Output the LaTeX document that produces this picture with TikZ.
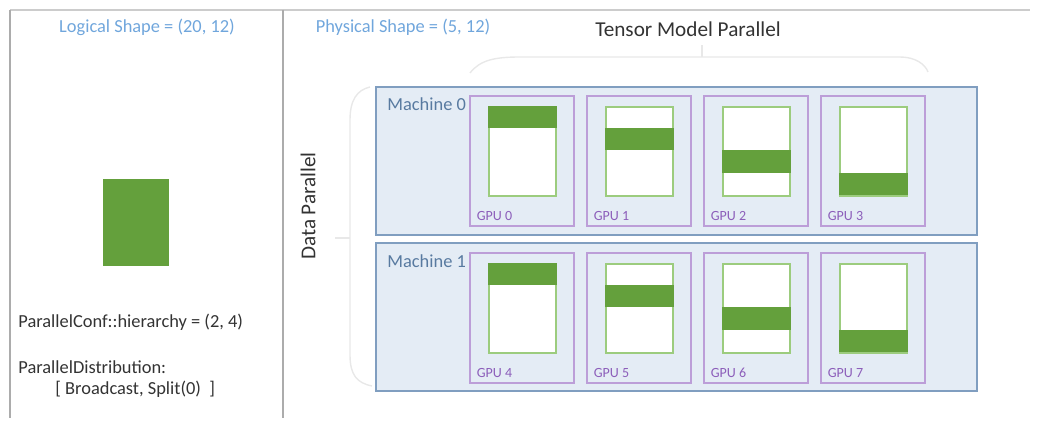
\documentclass[tikz,border=0pt]{standalone}
\usepackage{fontspec}
\setmainfont{Carlito}

\definecolor{headblue}{RGB}{112,166,220}
\definecolor{machinefill}{RGB}{228,236,245}
\definecolor{machineborder}{RGB}{128,158,192}
\definecolor{machinetext}{RGB}{88,122,160}
\definecolor{gpuborder}{RGB}{188,158,216}
\definecolor{gputext}{RGB}{140,94,186}
\definecolor{tensorborder}{RGB}{156,204,126}
\definecolor{shardgreen}{RGB}{100,160,60}
\definecolor{bracegray}{RGB}{232,232,232}

\begin{document}
\begin{tikzpicture}[x=0.5pt, y=-0.5pt,
    every node/.style={font=\fontsize{9.2}{11}\selectfont},
    machine/.style={draw=machineborder, fill=machinefill, line width=1pt, minimum width=300.5pt, minimum height=74pt, inner sep=0pt},
    gpu/.style={draw=gpuborder, line width=0.6pt, minimum width=52pt, minimum height=65pt, inner sep=0pt},
    tensor/.style={draw=tensorborder, fill=white, line width=1pt, minimum width=33.5pt, minimum height=44.5pt, inner sep=0pt},
    bigtext/.style={text=black!80, font=\fontsize{10.6}{12}\selectfont}
  ]
    \useasboundingbox (0,0) rectangle (1042,442);

    % frame
    \draw[gray!40, line width=1pt] (10,10) -- (1030,10);
    \draw[gray!65, line width=0.8pt] (10,10) -- (10,418);
    \draw[gray!65, line width=0.8pt] (283,10) -- (283,418);

    % left panel: logical view
    \node[text=headblue] (logical) at (147,27) {Logical Shape = (20, 12)};
    \node[fill=shardgreen, minimum width=33pt, minimum height=43.5pt, inner sep=0pt] (whole) at (136,222.5) {};
    \node[anchor=west, text=black!80, inner sep=0pt] (hier) at (18,322) {ParallelConf::hierarchy = (2, 4)};
    \node[anchor=west, text=black!80, inner sep=0pt] (dist) at (18,367) {ParallelDistribution:};
    \node[anchor=west, text=black!80, inner sep=0pt] (distval) at (55,389) {[ Broadcast, Split(0)\ \ ]};

    % right panel: physical view
    \node[text=headblue] (physical) at (403,27) {Physical Shape = (5, 12)};
    \node[bigtext] (tmp) at (688,29) {Tensor Model Parallel};
    \node[bigtext, rotate=90] (dp) at (308,206) {Data Parallel};

    % braces
    \draw[bracegray, line width=0.7pt] (470,73) .. controls (480,60) and (495,57) .. (520,57) -- (900,57) .. controls (915,57) and (925,64) .. (928,72);
    \draw[bracegray, line width=0.7pt] (702,57) -- (702,45);
    \draw[bracegray, line width=0.7pt] (370,87) .. controls (357,90) and (350,100) .. (350,120) -- (350,355) .. controls (350,375) and (357,383) .. (372,386);
    \draw[bracegray, line width=0.7pt] (350,238) -- (335,238);

    % machines
    \node[machine] (m0) at (676.5,161) {};
    \node[machine] (m1) at (676.5,317.5) {};
    \node[anchor=west, text=machinetext, inner sep=0pt] (m0label) at (387,104) {Machine 0};
    \node[anchor=west, text=machinetext, inner sep=0pt] (m1label) at (387,261) {Machine 1};

    % gpus with their shard
    \foreach \i in {0,...,7} {
      \pgfmathtruncatemacro\col{mod(\i,4)}
      \pgfmathtruncatemacro\row{div(\i,4)}
      \node[gpu] (g\i) at (522+117*\col, 161+157*\row) {};
      \node[tensor] (t\i) at (522+117*\col, 151.5+157*\row) {};
      \fill[shardgreen] ([yshift=-\col*11.125pt]t\i.north west) rectangle ([yshift=-\col*11.125pt-11.125pt]t\i.north east);
      \node[anchor=west, text=gputext, inner sep=0pt, font=\fontsize{7}{8}\selectfont] (l\i) at ([xshift=3.5pt, yshift=5.5pt]g\i.south west) {GPU \i};
    }
  \end{tikzpicture}
\end{document}
